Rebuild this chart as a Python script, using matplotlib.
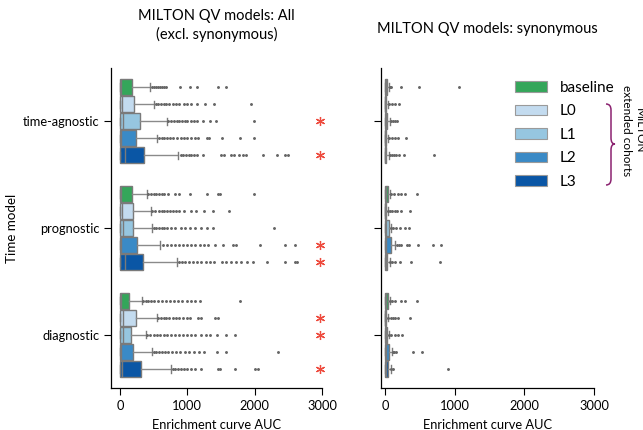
import numpy as np
import matplotlib
matplotlib.use('Agg')
import matplotlib.pyplot as plt
from matplotlib.patches import Patch, PathPatch
from matplotlib.path import Path

plt.rcParams['font.family'] = ['Lato', 'DejaVu Sans']

# -----------------------------
# Data
# -----------------------------
groups = ['time-agnostic', 'prognostic', 'diagnostic']
cohorts = ['baseline', 'L0', 'L1', 'L2', 'L3']
cohort_colors = ['#34a65a', '#c3dbef', '#96c6e0', '#3a8ac6', '#0a56a5']

# left panel: all QV models (excl. synonymous), rows = group, cols = cohort
left_q1 = [[0, 0, 0, 0, 0], [0, 0, 0, 0, 0], [0, 0, 0, 0, 0]]
left_med = [[20, 30, 45, 15, 80], [20, 30, 50, 20, 70], [15, 50, 40, 20, 30]]
left_q3 = [[180, 210, 290, 230, 350], [175, 195, 200, 250, 345], [140, 230, 165, 200, 305]]
left_whi = [[445, 505, 695, 550, 860], [395, 460, 480, 595, 840], [320, 545, 385, 475, 750]]
left_fliers = [
    [
        [470, 500, 530, 560, 590, 620, 650, 690, 890, 1040, 1140, 1460, 1575],
        [530, 570, 610, 650, 690, 730, 780, 830, 870, 950, 1000, 1050, 1140, 1260, 1390, 1950],
        [720, 760, 800, 840, 880, 920, 960, 1000, 1050, 1100, 1150, 1230, 1330, 1430, 1990],
        [580, 620, 660, 700, 740, 790, 840, 900, 950, 1000, 1060, 1110, 1160, 1290, 1320, 1520, 1780, 1990],
        [900, 940, 980, 1020, 1060, 1100, 1150, 1230, 1500, 1540, 1650, 1700, 1760, 1830, 1870, 2130, 2330, 2450, 2500],
    ],
    [
        [420, 460, 500, 540, 580, 620, 660, 710, 810, 880, 1040, 1290, 1460, 1490, 1990],
        [480, 520, 580, 620, 660, 700, 740, 780, 830, 880, 950, 1050, 1130, 1250, 1380, 1620],
        [500, 540, 580, 620, 660, 700, 760, 820, 900, 960, 1040, 1120, 1200, 1290, 1380, 2290],
        [640, 700, 760, 820, 880, 940, 1000, 1060, 1120, 1190, 1240, 1310, 1410, 1530, 1680, 1730, 2080, 2450, 2600],
        [870, 920, 970, 1030, 1090, 1150, 1210, 1280, 1340, 1390, 1510, 1580, 1650, 1720, 1800, 1880, 1980, 2180, 2450, 2600, 2630],
    ],
    [
        [340, 380, 420, 460, 500, 560, 620, 680, 740, 800, 860, 920, 990, 1060, 1120, 1190, 1780],
        [570, 610, 650, 690, 730, 780, 830, 880, 940, 1000, 1040, 1160, 1210, 1410, 1460],
        [400, 450, 500, 550, 600, 650, 700, 760, 820, 880, 940, 1000, 1060, 1120, 1200, 1270, 1340, 1440, 1580, 1710],
        [500, 540, 580, 620, 670, 720, 770, 830, 890, 960, 1030, 1100, 1170, 1240, 1440, 1580, 2350],
        [780, 820, 860, 900, 950, 1000, 1060, 1120, 1210, 1460, 1490, 1710, 2000, 2050],
    ],
]
# significant (group, cohort) pairs marked with a red asterisk
left_sig = [(0, 2), (0, 4), (1, 3), (1, 4), (2, 1), (2, 2), (2, 4)]

# right panel: synonymous QV models
right_q1 = [[0, 0, 0, 0, 0], [0, 0, 0, 0, 0], [0, 0, 0, 0, 0]]
right_med = [[8, 4, 10, 5, 6], [12, 5, 15, 20, 8], [12, 6, 10, 15, 10]]
right_q3 = [[25, 10, 30, 15, 20], [40, 15, 55, 80, 25], [40, 20, 35, 60, 40]]
right_whi = [[60, 50, 70, 50, 60], [70, 40, 85, 145, 65], [65, 45, 55, 100, 85]]
right_fliers = [
    [
        [70, 90, 230, 490, 1060],
        [60, 100, 140, 200],
        [80, 110, 140, 170],
        [60, 100, 140, 180, 300],
        [70, 100, 130, 160, 200, 280, 700],
    ],
    [
        [80, 130, 190, 230, 290, 455],
        [50, 70, 100, 140, 170, 230, 360],
        [90, 120, 160, 220, 290, 350],
        [170, 200, 230, 310, 350, 470, 690, 800],
        [70, 100, 140, 210, 370, 790],
    ],
    [
        [70, 100, 140, 230, 290, 455],
        [50, 80, 110, 140, 180, 360],
        [60, 90, 140, 180, 240],
        [110, 130, 160, 400, 530],
        [90, 110, 910],
    ],
]

xticks = [0, 1000, 2000, 3000]

# -----------------------------
# Helpers
# -----------------------------
box_step = 0.16
edge_gray = '#7a7a7a'


def box_position(g, c):
    return g + (c - 2) * box_step


def draw_panel(ax, q1, med, q3, whi, fliers):
    stats, positions, colors = [], [], []
    for g in range(len(groups)):
        for c in range(len(cohorts)):
            stats.append(dict(q1=q1[g][c], med=med[g][c], q3=q3[g][c],
                              whislo=q1[g][c], whishi=whi[g][c],
                              fliers=fliers[g][c]))
            positions.append(box_position(g, c))
            colors.append(cohort_colors[c])
    bp = ax.bxp(stats, positions=positions, widths=0.15,
                orientation='horizontal', patch_artist=True,
                manage_ticks=False, capwidths=0.07,
                boxprops=dict(edgecolor=edge_gray, linewidth=1.0),
                medianprops=dict(color=edge_gray, linewidth=1.0),
                whiskerprops=dict(color='#8a8a8a', linewidth=1.0),
                capprops=dict(color=edge_gray, linewidth=1.0),
                flierprops=dict(marker='o', markersize=1.1,
                                markerfacecolor='#666666',
                                markeredgecolor='#666666', linestyle='none'))
    for patch, col in zip(bp['boxes'], colors):
        patch.set_facecolor(col)

    ax.set_ylim(2.5, -0.5)
    ax.set_yticks(range(len(groups)))
    ax.set_xticks(xticks)
    ax.tick_params(axis='both', labelsize=9.3, length=5, width=0.8)
    ax.spines['top'].set_visible(False)
    ax.spines['right'].set_visible(False)
    ax.spines['left'].set_linewidth(0.9)
    ax.spines['bottom'].set_linewidth(0.9)
    ax.set_xlabel('Enrichment curve AUC', fontsize=9.3, labelpad=5)


# -----------------------------
# Figure
# -----------------------------
fig = plt.figure(figsize=(6.43, 4.30), dpi=100)
ax_left = fig.add_axes([111 / 643, 42 / 430, 211 / 643, 320 / 430])
ax_right = fig.add_axes([381 / 643, 42 / 430, 213 / 643, 320 / 430])

draw_panel(ax_left, left_q1, left_med, left_q3, left_whi, left_fliers)
ax_left.set_xlim(-134, 3000)
ax_left.set_yticklabels(groups)
ax_left.set_ylabel('Time model', fontsize=9.6)
ax_left.yaxis.set_label_coords(-0.44, 0.5)
ax_left.set_title('MILTON QV models: All\n(excl. synonymous)', fontsize=10.5,
                  pad=21, linespacing=1.3)
for g, c in left_sig:
    ax_left.plot(2975, box_position(g, c), marker=(6, 2, 0), markersize=6.5,
                 markeredgewidth=0.9, color='#ee4b3e', clip_on=False)

draw_panel(ax_right, right_q1, right_med, right_q3, right_whi, right_fliers)
ax_right.set_xlim(-57, 3000)
ax_right.set_yticklabels([])
ax_right.set_title('MILTON QV models: synonymous', fontsize=10.5, pad=25)

# legend
handles = [Patch(facecolor=col, edgecolor='#9a9a9a', linewidth=0.8)
           for col in cohort_colors]
fig.legend(handles, cohorts, loc='upper left',
           bbox_to_anchor=(515 / 643, 1 - 81 / 430), frameon=False,
           fontsize=11, handlelength=2.1, handleheight=0.7,
           handletextpad=0.85, labelspacing=0.62, borderpad=0,
           borderaxespad=0)


# brace for the extended cohorts (pixel coordinates -> inches)
def px(x, y):
    return (x / 100, (430 - y) / 100)


brace_codes = [Path.MOVETO, Path.CURVE3, Path.CURVE3, Path.LINETO,
               Path.CURVE3, Path.CURVE3, Path.CURVE3, Path.CURVE3,
               Path.LINETO, Path.CURVE3, Path.CURVE3]
brace_pts = [px(606, 104), px(611, 104), px(611, 110), px(611, 138),
             px(611, 144), px(615, 144), px(611, 144), px(611, 150),
             px(611, 179), px(611, 185), px(606, 185)]
brace = PathPatch(Path(brace_pts, brace_codes), facecolor='none',
                  edgecolor='#8b2270', linewidth=1.1,
                  transform=fig.dpi_scale_trans)
fig.add_artist(brace)
fig.text(633 / 643, 1 - 131 / 430, 'MILTON\nextended cohorts', rotation=270,
         ha='center', va='center', fontsize=8.5, multialignment='center',
         linespacing=1.2)

plt.savefig('out.png', dpi=100)
